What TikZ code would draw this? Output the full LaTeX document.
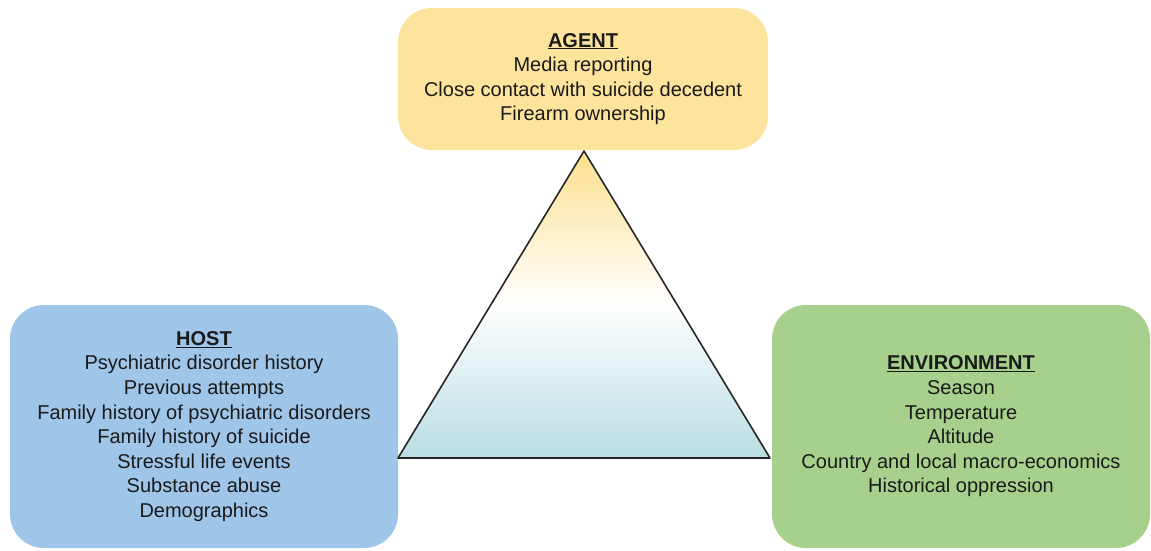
\documentclass[tikz,border=0pt]{standalone}
\usepackage{fontspec}
\setmainfont{Liberation Sans}
\definecolor{agentc}{HTML}{FDE49C}
\definecolor{hostc}{HTML}{9FC5E8}
\definecolor{envc}{HTML}{A8D08D}
\definecolor{tritop}{HTML}{FCE08E}
\definecolor{tribot}{HTML}{B9DCE2}
\definecolor{txt}{HTML}{1A1A1A}
\begin{document}
\begin{tikzpicture}[x=1pt,y=-1pt,
  box/.style={rounded corners=34pt, inner sep=0pt, align=center, text=txt,
    font=\fontsize{20}{24.6}\selectfont},
  ttl/.style={font=\bfseries}]
\useasboundingbox (0,0) rectangle (1151,551);
\node[box, fill=agentc, minimum width=370pt, minimum height=142pt] (agent) at (583,79)
  {\underline{\textbf{AGENT}}\\Media reporting\\Close contact with suicide decedent\\Firearm ownership};
\node[box, fill=hostc, minimum width=388pt, minimum height=243pt] (host) at (204,426.5)
  {\underline{\textbf{HOST}}\\Psychiatric disorder history\\Previous attempts\\Family history of psychiatric disorders\\Family history of suicide\\Stressful life events\\Substance abuse\\Demographics};
\node[box, fill=envc, minimum width=378pt, minimum height=243pt] (env) at (961,426.5)
  {\underline{\textbf{ENVIRONMENT}}\\Season\\Temperature\\Altitude\\Country and local macro-economics\\Historical oppression};
\coordinate (apex) at (584,151);
\coordinate (bl) at (398,458);
\coordinate (br) at (770,458);
\draw[line width=1.6pt, line join=round, top color=tritop, bottom color=tribot, middle color=white, draw=black!85]
  (apex) -- (bl) -- (br) -- cycle;
\end{tikzpicture}
\end{document}
